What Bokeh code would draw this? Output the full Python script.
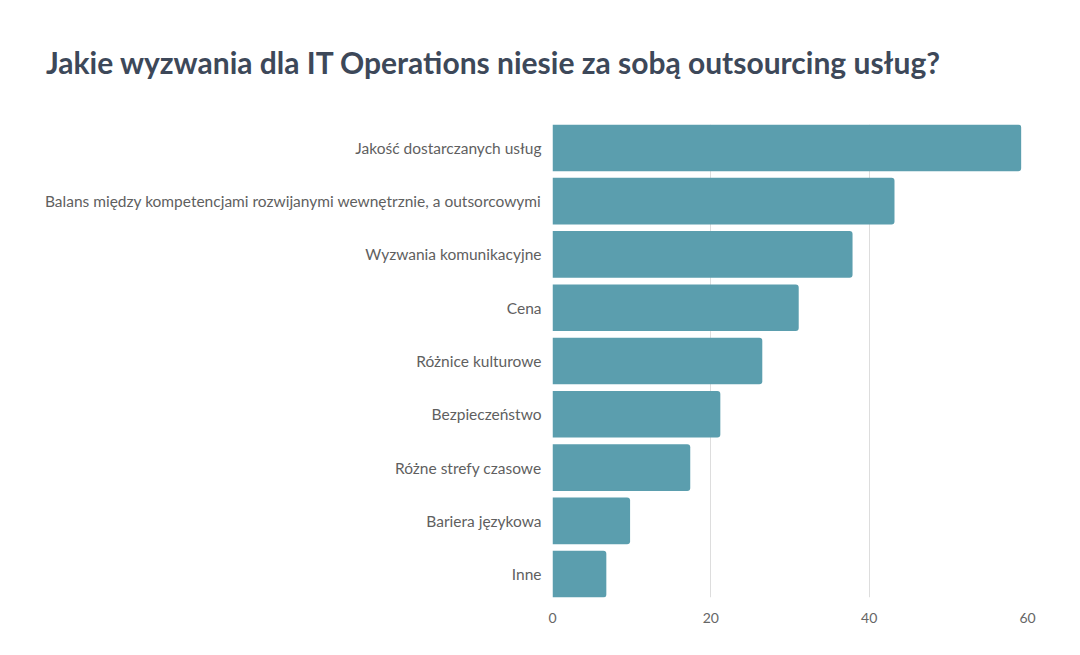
from bokeh.plotting import figure
from bokeh.models import Div, FactorRange, ColumnDataSource
from bokeh.layouts import column
from bokeh.embed import file_html
from bokeh.resources import INLINE

title_text = "Jakie wyzwania dla IT Operations niesie za sobą outsourcing usług?"
categories = [
    "Jakość dostarczanych usług",
    "Balans między kompetencjami rozwijanymi wewnętrznie, a outsorcowymi",
    "Wyzwania komunikacyjne",
    "Cena",
    "Różnice kulturowe",
    "Bezpieczeństwo",
    "Różne strefy czasowe",
    "Bariera językowa",
    "Inne",
]
values = [59.2, 43.2, 37.9, 31.1, 26.5, 21.2, 17.4, 9.8, 6.8]
x_ticks = [0, 20, 40, 60]

FONT = "Lato"
BAR = "#5b9eae"

title = Div(
    text=title_text,
    width=1080,
    height=58,
    styles={
        "font-family": FONT,
        "font-size": "30px",
        "font-weight": "bold",
        "color": "#3d4859",
        "margin-left": "46px",
        "margin-top": "41px",
        "white-space": "nowrap",
    },
)

src = ColumnDataSource(dict(cat=categories, val=values))

p = figure(
    width=1080,
    height=542,
    y_range=FactorRange(factors=list(reversed(categories)), range_padding=-0.125 / 9),
    x_range=(0, 60),
    output_backend="svg",
    toolbar_location=None,
    min_border_left=552,
    min_border_right=53,
    min_border_top=20,
    min_border_bottom=49,
)
p.hbar(y="cat", right="val", left=0, height=0.875, source=src,
       fill_color=BAR, line_color=None, border_radius=(0, 3, 3, 0))

p.outline_line_color = None
p.ygrid.grid_line_color = None
p.xgrid.grid_line_color = "#dddddd"
p.xgrid.ticker = x_ticks
p.xaxis.ticker = x_ticks

p.xaxis.axis_line_color = None
p.xaxis.major_tick_line_color = None
p.xaxis.minor_tick_line_color = None
p.xaxis.major_label_text_font = FONT
p.xaxis.major_label_text_font_size = "14px"
p.xaxis.major_label_text_color = "#666666"
p.xaxis.major_label_standoff = 9

p.yaxis.axis_line_color = None
p.yaxis.major_tick_line_color = None
p.yaxis.minor_tick_line_color = None
p.yaxis.major_label_text_font = FONT
p.yaxis.major_label_text_font_size = "15.5px"
p.yaxis.major_label_text_color = "#5f5f5f"
p.yaxis.major_label_standoff = 5

layout = column(title, p, spacing=0)
open("out.html", "w").write(file_html(layout, INLINE))
